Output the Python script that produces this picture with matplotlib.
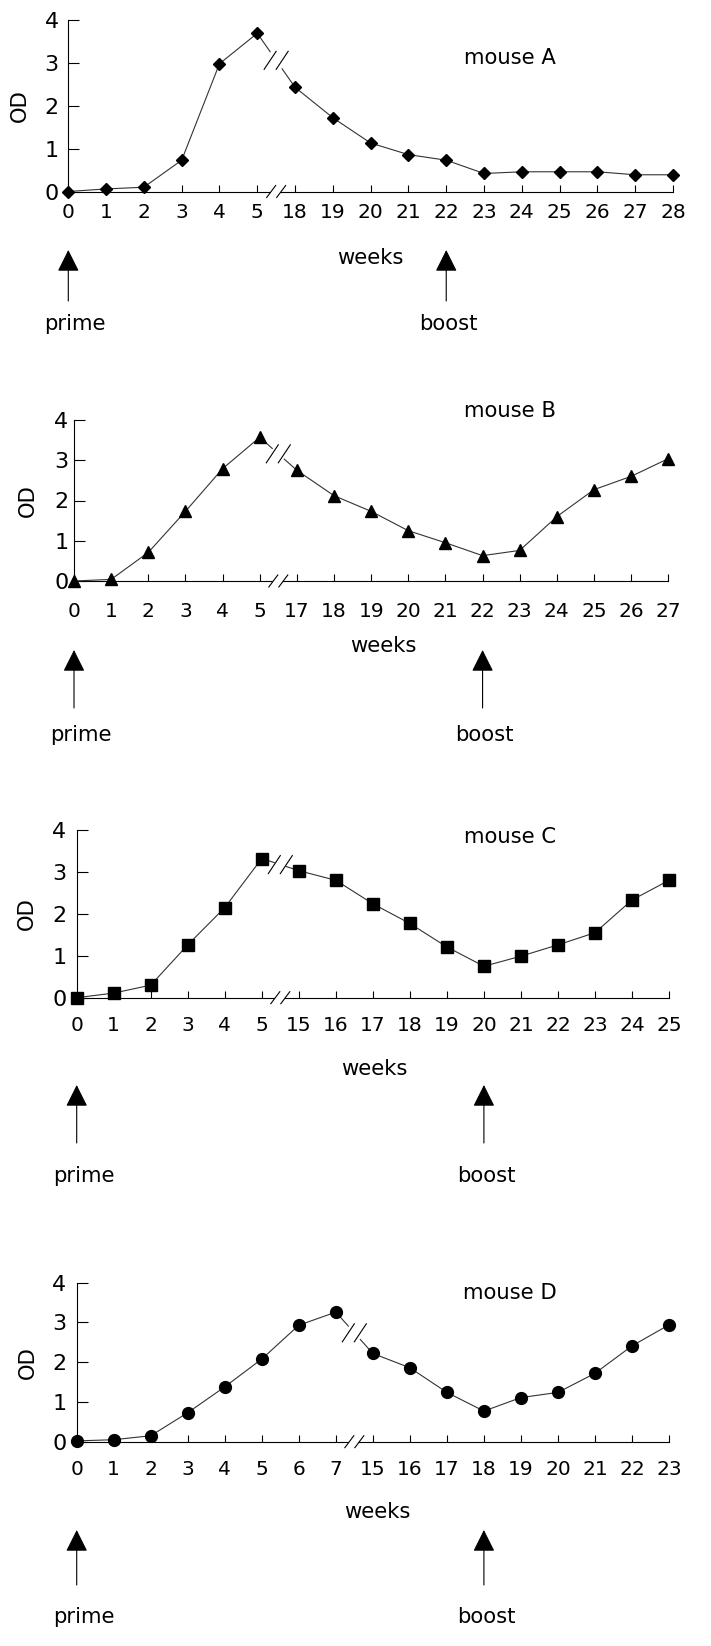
import numpy as np
import matplotlib
matplotlib.use('Agg')
import matplotlib.pyplot as plt

# weeks sampled (x tick labels) and OD readings per mouse
weeks_a = [0, 1, 2, 3, 4, 5, 18, 19, 20, 21, 22, 23, 24, 25, 26, 27, 28]
od_a = [0.0, 0.06, 0.1, 0.73, 2.98, 3.69, 2.43, 1.72, 1.13, 0.86, 0.73, 0.42, 0.46, 0.46, 0.46, 0.39, 0.39]

weeks_b = [0, 1, 2, 3, 4, 5, 17, 18, 19, 20, 21, 22, 23, 24, 25, 26, 27]
od_b = [0.0, 0.04, 0.71, 1.73, 2.79, 3.57, 2.75, 2.12, 1.73, 1.25, 0.95, 0.63, 0.76, 1.6, 2.27, 2.6, 3.04]

weeks_c = [0, 1, 2, 3, 4, 5, 15, 16, 17, 18, 19, 20, 21, 22, 23, 24, 25]
od_c = [0.0, 0.11, 0.3, 1.26, 2.15, 3.32, 3.03, 2.8, 2.24, 1.77, 1.21, 0.75, 0.99, 1.26, 1.55, 2.33, 2.8]

weeks_d = [0, 1, 2, 3, 4, 5, 6, 7, 15, 16, 17, 18, 19, 20, 21, 22, 23]
od_d = [0.02, 0.05, 0.15, 0.73, 1.38, 2.08, 2.93, 3.26, 2.22, 1.86, 1.24, 0.77, 1.11, 1.24, 1.72, 2.41, 2.94]

prime_week = 0
boost_weeks = {'A': 22, 'B': 22, 'C': 20, 'D': 18}

W, H = 711, 1646
FS = 15.2
plt.rcParams['font.family'] = ['DejaVu Sans']
fig = plt.figure(figsize=(W / 100, H / 100), dpi=100)


def fx(x):
    return x / W


def fy(y):
    return 1 - y / H


def slashes(ax, x, y, hg, w, h, blank=False):
    # two "//" marks centred on a data point, sizes in pixels
    cx, cy = ax.transData.transform((x, y))
    inv = ax.transData.inverted()
    if blank:
        poly = inv.transform([(cx - hg - w, cy - h), (cx + hg - w, cy - h),
                              (cx + hg + w, cy + h), (cx - hg + w, cy + h)])
        ax.fill(poly[:, 0], poly[:, 1], color='white', lw=0, zorder=4, clip_on=False)
    for dx in (-hg, hg):
        p = inv.transform([(cx + dx - w, cy - h), (cx + dx + w, cy + h)])
        ax.plot(p[:, 0], p[:, 1], color='black', lw=0.8, zorder=5, clip_on=False)


def panel(name, weeks, od, marker, ms, box, xpad, ypad, od_x, weeks_xy, mouse_y, arrow_y, text_y):
    left, right, y0, y4 = box
    ax = fig.add_axes([fx(left), fy(y0), (right - left) / W, (y0 - y4) / H])
    idx = np.arange(len(weeks))
    ax.set_xlim(0, len(weeks) - 1)
    ax.set_ylim(0, 4)

    # first index after the break in the week scale
    cut = next(i for i in range(1, len(weeks)) if weeks[i] - weeks[i - 1] > 1)
    step = (right - left) / (len(weeks) - 1)
    g = 6 / step
    y_t = lambda t: od[cut - 1] + (od[cut] - od[cut - 1]) * t
    xs = list(idx[:cut]) + [cut - 1 + 0.5 - g, np.nan, cut - 1 + 0.5 + g] + list(idx[cut:])
    ys = list(od[:cut]) + [y_t(0.5 - g), np.nan, y_t(0.5 + g)] + list(od[cut:])
    ax.plot(xs, ys, color='#333333', lw=0.8, zorder=3, clip_on=False)
    ax.plot(idx, od, ls='none', marker=marker, ms=ms, color='black', zorder=6, clip_on=False)

    slashes(ax, cut - 0.5, y_t(0.5), 6, 6, 9)
    slashes(ax, cut - 0.5, 0, 5, 4.5, 6, blank=True)

    ax.set_xticks(idx, [str(w) for w in weeks])
    ax.set_yticks(range(5))
    ax.tick_params(axis='x', direction='in', length=5, width=0.8, pad=xpad, labelsize=14.5)
    ax.tick_params(axis='y', direction='in', length=8, width=0.8, pad=ypad, labelsize=16)
    for s in ['top', 'right']:
        ax.spines[s].set_visible(False)
    for s in ['left', 'bottom']:
        ax.spines[s].set_linewidth(0.8)

    fig.text(fx(od_x), fy((y0 + y4) / 2), 'OD', rotation=90, ha='center', va='center', fontsize=FS)
    fig.text(fx(weeks_xy[0]), fy(weeks_xy[1]), 'weeks', ha='center', va='center', fontsize=FS)
    fig.text(fx(510), fy(mouse_y), 'mouse ' + name, ha='center', va='center', fontsize=FS)

    top, bottom = arrow_y
    for wk, label, dx in [(prime_week, 'prime', 7), (boost_weeks[name], 'boost', 2)]:
        xi = weeks.index(wk)
        ax.annotate('', xy=(xi, H - top), xycoords=('data', 'figure pixels'),
                    xytext=(xi, H - bottom), textcoords=('data', 'figure pixels'),
                    arrowprops=dict(arrowstyle='-|>,head_length=0.8,head_width=0.4',
                                    mutation_scale=17, lw=0.8, color='black',
                                    shrinkA=0, shrinkB=0),
                    annotation_clip=False)
        ax.annotate(label, xy=(xi, H - text_y), xycoords=('data', 'figure pixels'),
                    xytext=(dx, 0), textcoords='offset pixels',
                    ha='center', va='center', fontsize=FS, annotation_clip=False)
    return ax


panel('A', weeks_a, od_a, 'D', 6.5, (68.3, 673, 191.5, 20), 8, 7, 20, (370, 258), 58, (250, 301), 324)
panel('B', weeks_b, od_b, '^', 8.5, (74, 668.3, 581, 420), 15, 4, 28, (383, 646), 411, (650, 708), 735)
panel('C', weeks_c, od_c, 's', 8.5, (76.7, 669, 997.7, 830), 13, 7.5, 27, (374, 1069), 837, (1085, 1143), 1176)
panel('D', weeks_d, od_d, 'o', 8.5, (76.7, 669, 1441.7, 1282.7), 13, 7.5, 28, (377, 1512), 1293, (1530, 1585), 1617)

fig.savefig('out.png', dpi=100)
